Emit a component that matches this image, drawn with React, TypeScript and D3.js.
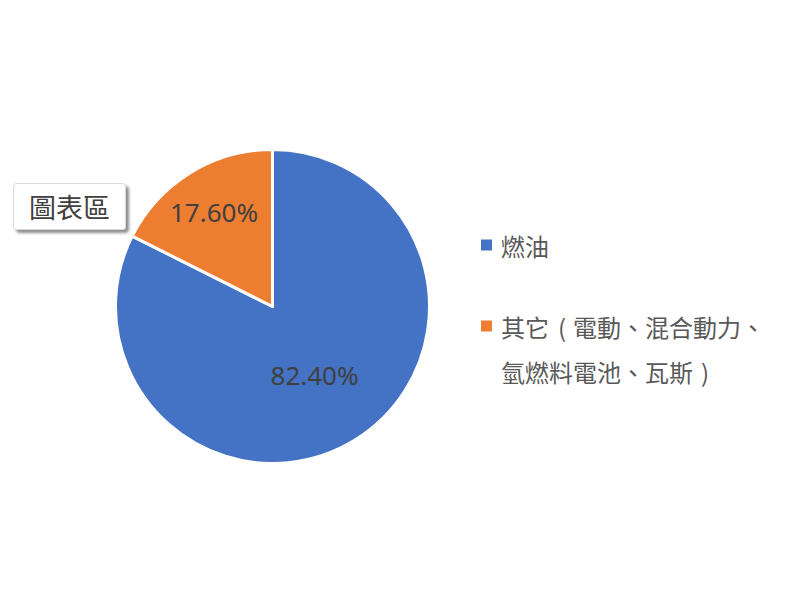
import React from "react";
import * as d3 from "d3";

const categories: string[] = ["燃油", "其它（電動、混合動力、氫燃料電池、瓦斯）"];
const values: number[] = [82.4, 17.6];
const valueLabels: string[] = ["82.40%", "17.60%"];
const colors: string[] = ["#4472C4", "#ED7D31"];
const tooltipText = "圖表區";

const W = 800;
const H = 600;
const cx = 272.5;
const cy = 306.5;
const R = 157;
const labelFrac = [0.51, 0.71];

const CJK = "'Noto Sans CJK TC', 'Noto Sans CJK SC', sans-serif";
const NUM = "'Noto Sans', 'Open Sans', sans-serif";

export default function App() {
  const pie = d3.pie<number>().sort(null).value((d) => d);
  const arcs = pie(values);
  const arc = d3.arc<d3.PieArcDatum<number>>().innerRadius(0).outerRadius(R);
  const legendFont = { fontFamily: CJK, fontSize: 24, fill: "#595959" };

  return (
    <svg
      width={W}
      height={H}
      style={{ position: "absolute", left: 0, top: 0, background: "#fff" }}
    >
      <defs>
        <filter id="sh" x="-20%" y="-20%" width="150%" height="160%">
          <feGaussianBlur in="SourceAlpha" stdDeviation="1.5" />
          <feOffset dx="3" dy="3" result="ob" />
          <feComponentTransfer>
            <feFuncA type="linear" slope="0.45" />
          </feComponentTransfer>
          <feMerge>
            <feMergeNode />
            <feMergeNode in="SourceGraphic" />
          </feMerge>
        </filter>
      </defs>
      <g transform={`translate(${cx},${cy})`}>
        {arcs.map((a, i) => (
          <path
            key={i}
            d={arc(a) || ""}
            fill={colors[i]}
            stroke="#fff"
            strokeWidth={3}
            strokeLinejoin="round"
          />
        ))}
        {arcs.map((a, i) => {
          const lr = R * labelFrac[i];
          const c = d3.arc<d3.PieArcDatum<number>>().innerRadius(lr).outerRadius(lr).centroid(a);
          return (
            <text
              key={"l" + i}
              x={c[0]}
              y={c[1]}
              textAnchor="middle"
              dominantBaseline="central"
              fontFamily={NUM}
              fontSize={26}
              fill="#404040"
            >
              {valueLabels[i]}
            </text>
          );
        })}
      </g>

      {/* legend */}
      <g>
        <rect x={481} y={245 - 5.5} width={11} height={11} fill={colors[0]} />
        <text x={501} y={245} dominantBaseline="central" {...legendFont}>
          {categories[0]}
        </text>
      </g>
      <g>
        <rect x={481} y={326 - 5.5} width={11} height={11} fill={colors[1]} />
        <text y={326} dominantBaseline="central" {...legendFont}>
          <tspan x={501}>其它</tspan>
          <tspan x={562} textAnchor="middle">(</tspan>
          <tspan x={573}>電動、混合動力、</tspan>
        </text>
        <text y={371} dominantBaseline="central" {...legendFont}>
          <tspan x={501}>氫燃料電池、瓦斯</tspan>
          <tspan x={705} textAnchor="middle">)</tspan>
        </text>
      </g>

      {/* tooltip */}
      <g filter="url(#sh)">
        <rect x={13.5} y={183.5} width={112} height={46} rx={3} fill="#fff" stroke="#d9d9d9" strokeWidth={1} />
      </g>
      <text
        x={69.5}
        y={206}
        textAnchor="middle"
        dominantBaseline="central"
        fontFamily={CJK}
        fontSize={27}
        fill="#404040"
      >
        {tooltipText}
      </text>
    </svg>
  );
}
